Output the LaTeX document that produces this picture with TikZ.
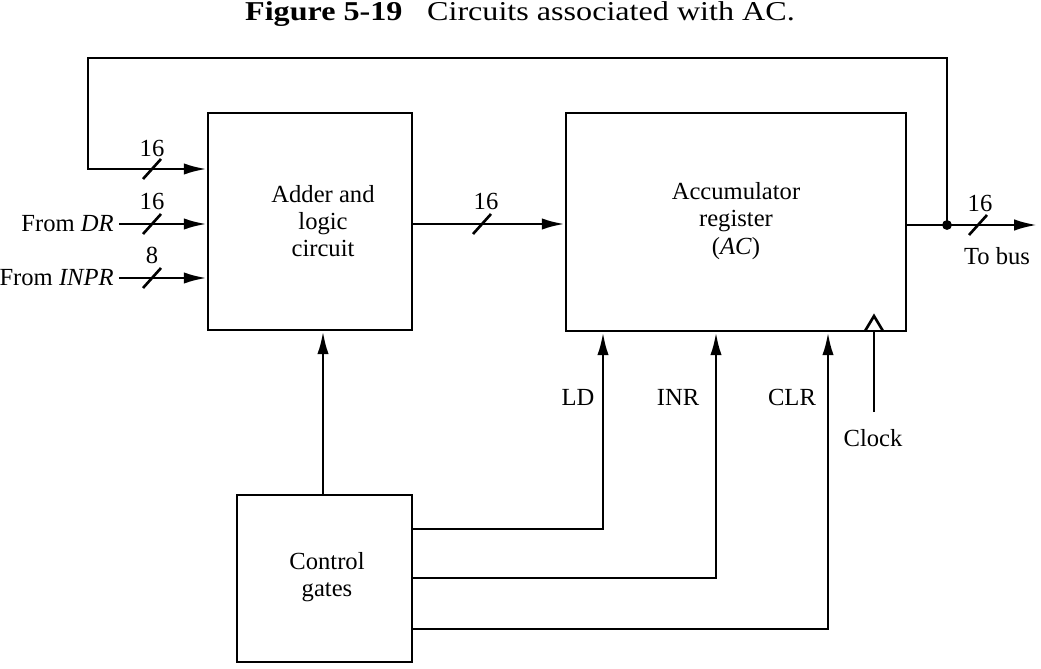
\documentclass[tikz,border=0pt]{standalone}
\usepackage{fontspec}
\setmainfont{Liberation Serif}
\newfontfamily\titlefont[FakeStretch=1.18]{Liberation Serif}
\usetikzlibrary{arrows.meta}
\begin{document}
\begin{tikzpicture}[x=0.02cm,y=-0.02cm,
  box/.style={draw, line width=1.6pt, inner sep=0},
  wire/.style={line width=1.5pt},
  arr/.style={wire, -{Latex[length=13pt,width=6.5pt]}},
  lbl/.style={font=\fontsize{14}{15.5}\selectfont, inner sep=0, align=center},
  bus/.pic={\draw[wire] (-9,10) -- (9,-10);}
]
\useasboundingbox (0,0) rectangle (1041,669);

% title
\node (title) at (520,14) {\titlefont\fontsize{15.5}{18}\selectfont \textbf{Figure 5-19}\hspace{14pt}Circuits associated with AC.};

% boxes
\node[box, minimum width=4.08cm, minimum height=4.34cm] (adder) at (310,221.5) {};
\node[box, minimum width=6.8cm, minimum height=4.36cm] (ac) at (736,222) {};
\node[box, minimum width=3.5cm, minimum height=3.34cm] (ctrl) at (324.5,578.5) {};

\node[lbl] (addert) at (323,221) {Adder and\\logic\\circuit};
\node[lbl] (act) at (736,221) {Accumulator\\register\\(\textit{AC})};
\node[lbl] (ctrlt) at (327,577) {Control\\gates};

% feedback loop
\coordinate (dot) at (947,225);
\coordinate (fbl) at (88,58);
\draw[arr] (dot) |- (fbl) |- (adder.west |- 0,169);
\pic at (152,169) {bus};
\node[lbl] (n1) at (152,148) {16};

% From DR
\node[lbl, anchor=east] (fdr) at (114,224) {From \textit{DR}};
\draw[arr] ([xshift=3pt]fdr.east) -- (adder.west |- fdr.east);
\pic at (152,224) {bus};
\node[lbl] (n2) at (152,201) {16};

% From INPR
\node[lbl, anchor=east] (finpr) at (114,278) {From \textit{INPR}};
\draw[arr] ([xshift=3pt]finpr.east) -- (adder.west |- finpr.east);
\pic at (152,278) {bus};
\node[lbl] (n3) at (152,255) {8};

% adder -> AC
\draw[arr] (adder.east |- 0,224) -- (ac.west |- 0,224);
\pic at (482,224) {bus};
\node[lbl] (n4) at (486,201) {16};

% AC output
\coordinate (busend) at (1037,225);
\draw[arr] (ac.east |- dot) -- (busend);
\fill (dot) circle (2.8pt);
\pic at (978,225) {bus};
\node[lbl] (n5) at (980,203) {16};
\node[lbl] (tobus) at (997,256) {To bus};

% control -> adder
\draw[arr] (ctrl.north -| 323,0) -- (adder.south -| 323,0);

% control lines
\draw[arr] (ctrl.east |- 0,529) -| (ac.south -| 603,0);
\draw[arr] (ctrl.east |- 0,578) -| (ac.south -| 716,0);
\draw[arr] (ctrl.east |- 0,629) -| (ac.south -| 828,0);
\node[lbl] (ld) at (578,397) {LD};
\node[lbl] (inr) at (678,397) {INR};
\node[lbl] (clr) at (792,397) {CLR};

% clock
\coordinate (clk) at (874,412);
\draw[wire] (clk) -- (ac.south -| clk);
\draw[wire, line join=miter] (865,331) -- (874,316) -- (883,331);
\node[lbl] (clock) at (873,438) {Clock};
\end{tikzpicture}
\end{document}
